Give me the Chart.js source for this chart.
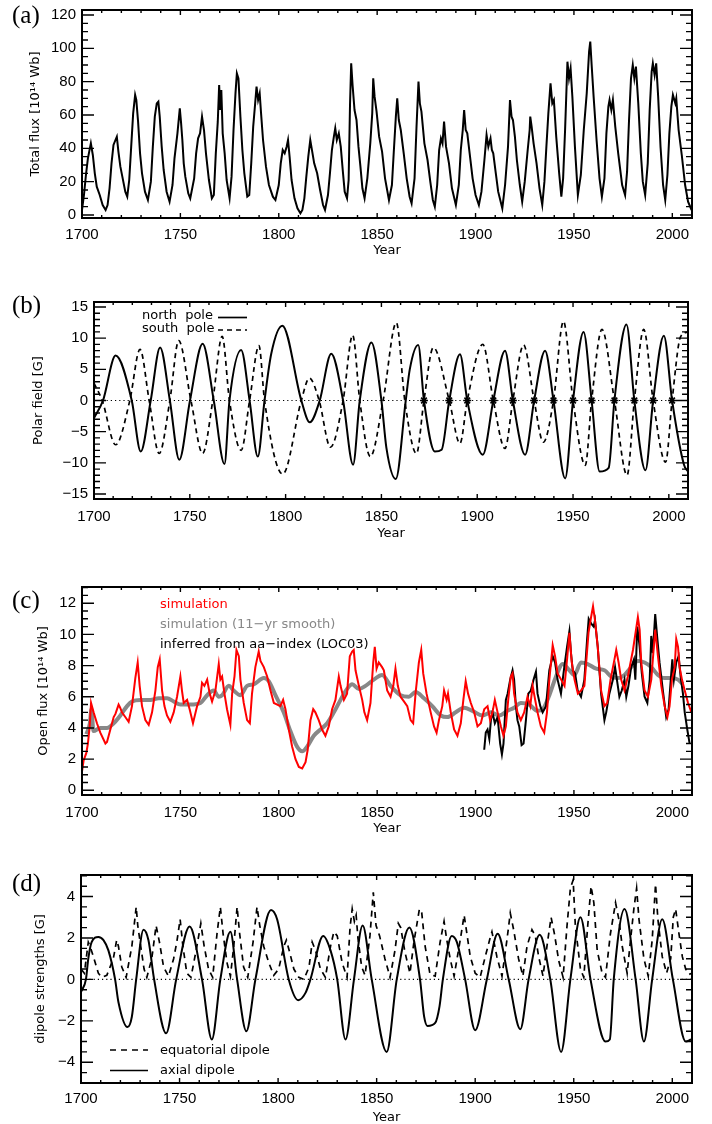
<!DOCTYPE html>
<html>
<head>
<meta charset="utf-8">
<script src="https://cdn.jsdelivr.net/npm/chart.js@4.4.0/dist/chart.umd.min.js"></script>
<style>
  body { margin: 0; background: #fff; width: 712px; height: 1124px; position: relative; overflow: hidden; }
  canvas { position: absolute; left: 0; }
</style>
</head>
<body>
<canvas id="chartA" width="712" height="262" style="top:0px"></canvas>
<canvas id="chartB" width="712" height="265" style="top:280px"></canvas>
<canvas id="chartC" width="712" height="280" style="top:565px"></canvas>
<canvas id="chartD" width="712" height="270" style="top:860px"></canvas>
<script>
const YEAR_MIN = 1700;
const YEAR_MAX = 2010;
const yearTicks = [1700, 1750, 1800, 1850, 1900, 1950, 2000];
const fluxTicks = [0, 20, 40, 60, 80, 100, 120];
const polarTicks = [-15, -10, -5, 0, 5, 10, 15];
const openTicks = [0, 2, 4, 6, 8, 10, 12];
const dipoleTicks = [-4, -2, 0, 2, 4];

// (a) total flux [10^14 Wb], [year, value]
const totalFlux = [
  [1700,3],[1701,12],[1702,24],[1703,34],[1704.5,43],[1705.5,36],[1706.5,25],[1707.5,17],[1709,12],[1710.5,6],[1712,3],[1713,6],
  [1714,16],[1715,31],[1716,42],[1717,45],[1717.7,47],[1718.5,38],[1719.5,29],[1720.5,23],[1722,14],[1723,11],
  [1724,21],[1725,41],[1726,61],[1727,72],[1727.6,69],[1728.5,56],[1729.5,37],[1730.5,25],[1732,14],[1733.5,9],
  [1735,20],[1736,41],[1737,59],[1738,67],[1738.8,68],[1739.5,59],[1740.5,41],[1741.5,27],[1743,14],[1744.5,8],
  [1746,18],[1747,34],[1748.5,49],[1749.7,64],[1750.3,56],[1751,45],[1751.7,31],[1752.5,23],[1754,13],[1755,10],
  [1757,22],[1758,37],[1759,46],[1760,49],[1761,59],[1762,51],[1763,37],[1764.5,21],[1766,10],[1767,12],
  [1768,37],[1769,56],[1769.7,78],[1770.2,63],[1770.8,75],[1771.5,49],[1772.5,37],[1773.5,21],[1775,10],
  [1776,23],[1777,51],[1778,73],[1778.7,85],[1779.5,82],[1780.5,59],[1781.5,39],[1782.5,25],[1784,11],[1785,12],
  [1786,31],[1787,53],[1788,67],[1788.7,77],[1789.5,69],[1790.3,73],[1791,61],[1792,45],[1793.5,29],[1795,18],[1797,11],[1798.3,9],
  [1800,18],[1801,31],[1802,39],[1803,37],[1804,41],[1804.7,45],[1805.5,35],[1806.5,21],[1808,10],[1809.5,4],[1811,1],[1812,3],
  [1813,10],[1814,23],[1815,35],[1816,45],[1817,38],[1818,31],[1819.5,25],[1821,15],[1822.5,6],[1823.5,3],
  [1825,12],[1826,25],[1827,39],[1828,47],[1828.7,52],[1829.5,45],[1830.5,49],[1831.5,41],[1832.5,27],[1833.5,14],[1834.7,10],
  [1835.5,21],[1836.2,66],[1836.8,91],[1837.5,78],[1838.5,63],[1839.5,57],[1840.5,41],[1841.5,29],[1842.5,16],[1843.6,10],
  [1845,22],[1846.5,43],[1847.5,61],[1848,82],[1848.7,71],[1849.7,62],[1851,47],[1852.5,38],[1854,22],[1856,9],
  [1857.5,18],[1858.5,39],[1859.5,59],[1860.2,70],[1861,57],[1862,51],[1863.5,37],[1865,22],[1866.5,11],[1867.5,7],
  [1869,22],[1870,53],[1871,80],[1871.7,67],[1872.5,62],[1874,43],[1875.6,33],[1877,20],[1878.3,9],[1879.3,5],
  [1880.5,18],[1881.5,39],[1882.4,46],[1883.2,43],[1884,56],[1885,41],[1886.5,31],[1888,16],[1890,6],
  [1891.5,18],[1892.5,39],[1893.5,51],[1894.2,63],[1895,51],[1895.8,49],[1897,37],[1898.5,22],[1900,12],[1901.7,6],
  [1903,14],[1904.5,33],[1905.6,48],[1906.5,41],[1907.6,46],[1908.3,39],[1909,37],[1910.3,25],[1911.5,14],[1913.6,4],
  [1915,18],[1916.5,41],[1917.5,69],[1918.3,59],[1919,57],[1920,47],[1921,33],[1922.5,18],[1923.7,8],
  [1925,20],[1926.5,39],[1927.5,51],[1927.8,59],[1928.5,53],[1929.5,43],[1931,31],[1932.5,16],[1933.9,6],
  [1935,20],[1936,41],[1937,61],[1938.1,79],[1939,67],[1939.8,69],[1941,47],[1942.5,25],[1943.6,11],
  [1944.5,22],[1945.5,51],[1946.7,92],[1947.5,82],[1948.3,88],[1949.2,71],[1950.5,41],[1952,12],
  [1953.5,24],[1955,51],[1956.5,73],[1957.7,98],[1958.3,104],[1959,90],[1960,71],[1961.5,45],[1963,22],[1964.2,11],
  [1965.5,22],[1966.5,49],[1967.5,65],[1968.1,69],[1969,63],[1969.8,69],[1971,53],[1972.5,37],[1974.5,18],[1976,12],
  [1977,26],[1978,57],[1979,82],[1979.9,90],[1980.7,82],[1981.5,89],[1982.7,67],[1984,37],[1985,20],[1986.2,12],
  [1987.5,31],[1988.5,63],[1989.5,86],[1990.1,91],[1991,84],[1991.8,91],[1992.8,71],[1994,41],[1995.3,18],[1996.4,9],
  [1997.5,24],[1998.5,49],[1999.5,65],[2000.3,72],[2001.5,67],[2002,70],[2003.2,51],[2004.8,36],[2006.5,18],[2008,8],[2009.8,3]
];

// (b) polar field [G]
const northPole = [
  [1700,-2.8],[1704.7,0],[1711.3,7.2],[1719.7,0],[1724.4,-8.2],[1729.6,0],[1734.5,8.5],[1739.6,0],[1744.5,-9.5],
  [1750.1,0],[1756.7,9.1],[1762.5,0],[1768.1,-10.2],[1770.7,0],[1776.8,8.1],[1781.2,0],[1785.5,-9],[1789,0],
  [1792.5,7.5],[1798.3,12],[1808.2,0],[1812.6,-3.5],[1817.8,0],[1823.8,7.5],[1830,0],[1835.2,-10.3],[1838.7,0],
  [1844.8,9.3],[1850,0],[1852.6,-7.6],[1857.5,-12.6],[1862.7,0],[1864.8,5],[1869.2,8.9],[1872.2,0],[1877.9,-8.2],
  [1881.4,-7.9],[1885.4,0],[1891,7.4],[1894.8,0],[1902.9,-8.7],[1908.4,0],[1914.5,8],[1918.6,0],[1925,-8.7],
  [1929.7,0],[1935.4,8],[1939.8,0],[1945.9,-12.5],[1950,0],[1955.5,11],[1959.7,0],[1963.9,-11.4],[1968.6,-10.8],
  [1971.6,0],[1977.9,12.2],[1982,0],[1987.8,-11.2],[1991.8,0],[1997.4,10.4],[2001.7,0],[2007.9,-10.3],[2010,-11.4]
];
const southPole = [
  [1700,2.8],[1704.3,0],[1711.3,-7.1],[1718.7,0],[1724,8.2],[1728.8,0],[1734,-8.5],[1739.6,0],[1744.2,9.6],
  [1750.6,0],[1756.7,-8.5],[1762,0],[1766.9,10.3],[1770.7,0],[1776.8,-8],[1781.2,0],[1786.1,8.8],[1789,0],
  [1798.5,-11.8],[1808.2,0],[1812.4,3.6],[1817.5,0],[1823.4,-7.5],[1830,0],[1835,10.5],[1838.7,0],[1844.2,-9],
  [1850.9,0],[1857.8,12.5],[1862.2,0],[1868.3,-8.5],[1872.2,0],[1877.1,8.5],[1885.4,0],[1891,-6.9],[1894.8,0],
  [1902.9,9],[1908.4,0],[1914.5,-7.7],[1918.6,0],[1924.2,8.9],[1929.7,0],[1934.5,-6.7],[1939.8,0],[1945,12.7],
  [1950,0],[1956.4,-10.4],[1959.7,0],[1965.1,11.4],[1971.6,0],[1978.2,-12],[1982,0],[1986.9,11.4],[1991.8,0],
  [1998.3,-9.9],[2001.7,0],[2006.1,10.2],[2010,11]
];
const reversalYears = [1872.2, 1885.4, 1894.8, 1908.4, 1918.6, 1929.7, 1939.8, 1950, 1959.7, 1971.6, 1982, 1991.8, 2001.7];

// (c) open flux [10^14 Wb]
const openFluxSim = [
  [1700,1.2],[1700.8,1.9],[1702.2,2.4],[1703,3.0],[1703.9,4.1],[1704.6,5.6],[1705.9,5.0],[1707.6,4.3],[1709.3,3.7],
  [1711.9,3.0],[1712.7,3.1],[1714.4,3.9],[1716.1,4.7],[1717,4.9],[1718.6,5.5],[1719.4,5.3],[1720.3,5.0],[1722,4.7],
  [1723.7,4.4],[1725.4,5.4],[1727.1,7.2],[1728.3,8.2],[1729.3,6.7],[1730.5,5.4],[1732.2,4.5],[1733.9,4.2],[1735.6,5.0],
  [1737.3,6.4],[1738.5,7.9],[1739.5,8.4],[1740.7,6.4],[1741.9,5.4],[1743.2,4.8],[1744.9,4.4],[1746.6,5.0],[1748.3,6.0],
  [1750,7.3],[1750.8,6.4],[1751.7,5.6],[1753.4,5.8],[1754.7,5.2],[1756.4,4.3],[1758.5,5.4],[1760.2,6.0],[1761,6.9],
  [1762.2,6.7],[1763.6,7.1],[1764.9,6.2],[1766.1,5.7],[1767.8,6.4],[1769.5,8.1],[1770.3,7.1],[1771.2,7.3],[1772.4,6.2],
  [1773.7,5.2],[1775.4,4.2],[1776.3,6.2],[1777.5,7.3],[1778.5,9.0],[1779.7,8.6],[1780.5,7.1],[1782.2,5.6],[1783.9,4.5],
  [1785.3,4.3],[1786.4,6.2],[1788.1,7.9],[1789.8,8.9],[1790.7,8.3],[1792.4,7.9],[1794.1,7.3],[1795.8,6.4],[1797.5,5.6],
  [1799.2,5.5],[1800.8,5.4],[1802.2,5.8],[1803.4,5.2],[1805.1,3.9],[1806.8,2.8],[1808.5,2.0],[1810.2,1.5],[1811.9,1.4],
  [1813.6,1.8],[1814.7,2.6],[1816.1,4.5],[1817.5,5.2],[1818.6,5.0],[1820.3,4.5],[1822,3.9],[1823.7,3.5],[1825.4,4.1],
  [1827.1,5.2],[1828.8,5.8],[1830.5,7.3],[1831.4,6.7],[1833.1,5.8],[1834.7,6.2],[1836.1,8.6],[1837.3,8.9],[1838.1,9.0],
  [1839,7.7],[1840.7,6.7],[1842.4,5.8],[1843.5,5.0],[1844.9,4.5],[1846.6,5.6],[1848,8.2],[1848.8,9.2],[1849.7,7.8],
  [1850.8,8.2],[1852.5,7.9],[1853.4,7.7],[1855.1,6.4],[1856.8,6.0],[1858.2,6.7],[1859.3,7.8],[1860.5,6.7],[1861.9,6.0],
  [1863.6,5.7],[1865.3,5.4],[1867,4.5],[1868.3,4.3],[1869.5,6.2],[1871.2,8.2],[1872.4,9.0],[1873.4,7.5],[1875.1,6.2],
  [1877.2,5.0],[1878.9,4.1],[1880.2,3.7],[1881.4,4.5],[1883.1,5.4],[1884,6.4],[1885.3,5.8],[1886,6.2],[1887.4,5.0],
  [1889.1,3.9],[1890.8,3.5],[1892.5,4.3],[1893.8,5.8],[1895,7.0],[1896.2,6.2],[1897.6,5.6],[1899.3,5.0],[1901,4.1],
  [1902.7,4.3],[1904.4,5.2],[1906.1,5.4],[1907.4,4.5],[1908.6,5.0],[1909.8,5.8],[1911.2,5.0],[1912.9,4.1],[1914.2,3.5],
  [1915.4,4.1],[1916.6,5.8],[1917.9,7.3],[1918.8,7.5],[1919.6,6.2],[1921.3,5.0],[1923,4.5],[1924.7,5.0],[1926.4,6.0],
  [1927.8,5.4],[1929,6.7],[1930.3,5.8],[1931.5,5.0],[1933.2,4.1],[1934.9,3.7],[1936.3,5.0],[1937.5,7.1],[1939.2,9.3],
  [1940.4,8.6],[1941.7,7.5],[1943.5,7.1],[1945.2,6.7],[1946.5,8.4],[1947.7,10.1],[1948.9,8.2],[1950.3,7.1],[1952,6.2],
  [1953.6,6.4],[1955.3,6.7],[1957.4,10.1],[1958.7,11.1],[1959.7,11.8],[1960.7,10.9],[1962.1,9.2],[1963.8,6.4],
  [1965.5,5.4],[1966.9,5.6],[1968.6,7.1],[1970.6,8.4],[1971.5,9.0],[1972.7,8.2],[1974,7.1],[1975.7,6.4],[1977.4,7.3],
  [1980,9.0],[1982.5,11.1],[1983.4,10.3],[1984.2,8.2],[1985.9,6.4],[1987.6,6.0],[1989.3,7.1],[1990.1,8.4],[1991.3,10.3],
  [1992.7,8.6],[1994.4,6.7],[1996.1,5.4],[1997.5,4.7],[1998.6,5.4],[1999.8,7.1],[2001.2,7.9],[2002,9.7],[2002.9,9.2],
  [2003.7,7.9],[2004.9,7.1],[2006.3,6.4],[2008,5.6],[2009.7,5.0]
];
const openFluxSmooth = [
  [1702.2,3.6],[1704,4.3],[1704.8,5.2],[1705.8,3.8],[1709.3,4.0],[1712.7,4.0],[1716.1,4.3],[1719.5,4.8],[1722.9,5.4],
  [1725.4,5.7],[1729.7,5.8],[1734.7,5.8],[1739,5.9],[1743.2,5.9],[1746.6,5.7],[1750,5.5],[1755.1,5.5],[1760.2,5.6],
  [1763.6,6.1],[1766.9,6.4],[1769.5,6.0],[1771.2,6.1],[1774.6,6.7],[1777.1,6.4],[1780.5,6.1],[1783.9,6.7],[1787.3,6.8],
  [1792.4,7.2],[1794.9,7.0],[1798.3,6.1],[1802.5,5.0],[1805.9,3.8],[1809.3,2.8],[1811.9,2.5],[1814.4,2.8],[1817.8,3.5],
  [1821.2,3.9],[1824.6,4.3],[1828,5.0],[1831.4,5.8],[1834.7,6.5],[1837.3,6.8],[1840.7,6.5],[1844.1,6.7],[1848.3,7.1],
  [1852.5,7.4],[1856.8,6.7],[1861.9,6.1],[1866.1,6.0],[1869.5,6.3],[1873.8,5.9],[1878,5.4],[1882.3,4.8],[1885.7,4.7],
  [1889.9,5.0],[1894.2,5.3],[1898.4,5.1],[1903.5,4.8],[1907.8,5.0],[1912,4.8],[1916.2,5.1],[1919.6,5.3],[1923,5.6],
  [1927.3,5.5],[1931.5,5.1],[1934.1,5.2],[1937.5,6.1],[1940.9,7.3],[1944.3,8.1],[1947.7,7.7],[1950.2,7.4],[1953.6,8.2],
  [1957,8.1],[1961.3,7.8],[1965.5,7.7],[1968.9,7.3],[1972.3,7.2],[1975.7,7.4],[1979.1,7.9],[1982.5,8.3],[1985.9,8.2],
  [1989.3,7.9],[1992.7,7.4],[1996.1,7.2],[1999.5,7.2],[2002.9,7.1],[2005.4,6.8]
];
const openFluxAa = [
  [1904.4,2.6],[1905.2,3.7],[1906.1,3.9],[1907,3.3],[1907.8,4.5],[1908.6,5.0],[1909.8,4.3],[1911.2,4.7],[1912.5,3.0],
  [1913.4,2.3],[1914.2,3.0],[1915.4,5.8],[1916.3,6.2],[1917.6,7.1],[1918.8,7.7],[1919.6,7.1],[1920.5,5.4],[1921.3,4.5],
  [1922.2,4.1],[1923.4,2.9],[1924.4,3.0],[1925.6,4.5],[1926.8,6.2],[1928.1,6.4],[1929.5,7.1],[1930.7,7.6],[1931.5,6.2],
  [1932.9,5.4],[1934.1,5.0],[1935.8,5.4],[1937.5,7.7],[1939.2,8.6],[1940.4,8.2],[1941.7,7.1],[1943.4,6.2],[1945.1,7.9],
  [1946.5,9.2],[1947.7,10.2],[1948.5,8.8],[1949.4,7.7],[1950.6,7.5],[1951.9,6.4],[1953.6,6.0],[1955.3,7.1],[1956.7,9.7],
  [1957.5,11.0],[1958.7,10.7],[1960,10.5],[1960.7,10.9],[1962.1,9.2],[1963.8,6.2],[1965.5,4.5],[1966.4,5.0],[1968,6.2],
  [1969.8,7.1],[1970.9,7.9],[1972.3,6.7],[1973.1,6.0],[1974.3,6.4],[1975.7,7.1],[1976.6,6.0],[1977.7,6.7],[1979.1,7.9],
  [1980.5,8.4],[1981.2,7.1],[1982.2,10.5],[1983.4,9.2],[1984.5,7.5],[1985.9,6.0],[1987.3,5.6],[1988.5,7.1],[1989.3,9.9],
  [1990.1,8.8],[1991.3,11.3],[1992.4,9.7],[1993.5,8.2],[1995.2,6.4],[1996.9,4.7],[1998.1,5.2],[1999.1,6.9],[2000,8.4],
  [2000.8,7.1],[2002,8.2],[2003.2,8.6],[2004.2,7.3],[2005.4,6.2],[2006.3,5.0],[2007.6,3.9],[2008.8,3.0]
];

// (d) dipole strengths [G]
const equatorialDipole = [
  [1700,0.5],[1701.7,0.3],[1703.7,1.8],[1704.6,1.6],[1706.3,1.1],[1708.8,0.3],[1710.5,0.1],[1713.1,0.2],[1716.4,1.0],
  [1718.1,1.9],[1719,1.6],[1720.7,0.6],[1722.9,0.1],[1725.8,1.6],[1728,3.5],[1728.8,2.6],[1730,1.8],[1732,0.5],
  [1733.4,0.1],[1735.9,1.0],[1738.1,2.6],[1739.8,1.8],[1741.9,0.6],[1744.4,0.15],[1747,1.0],[1748.6,1.8],[1750.3,2.9],
  [1751.7,1.6],[1753.7,0.3],[1755.8,0.1],[1758.8,1.6],[1760.8,2.7],[1762.5,1.6],[1764.7,0.5],[1766.8,0.1],[1769,2.2],
  [1770.7,3.5],[1772.1,2.2],[1774.1,0.8],[1775.8,0.15],[1777.5,1.6],[1779.2,3.5],[1780.5,2.2],[1782.5,0.6],[1784.6,0.1],
  [1787.3,1.8],[1789.3,3.5],[1790.7,2.6],[1792.7,1.6],[1795.3,0.8],[1797.8,0.2],[1800.3,0.5],[1802.9,1.6],[1804.2,1.9],
  [1805.9,1.3],[1808,0.5],[1810.5,0.1],[1813.1,0.0],[1815.7,0.6],[1817.3,1.8],[1819,1.4],[1821.5,0.5],[1824,0.1],
  [1826.6,1.6],[1828.3,2.3],[1830,2.1],[1832.5,0.8],[1835,0.1],[1836.5,2.5],[1837.6,3.4],[1838.7,2.8],[1839.6,3.1],
  [1840.5,2.0],[1842.4,0.6],[1844.1,0.2],[1846.6,2.1],[1848.3,4.2],[1849.7,2.6],[1851.5,2.1],[1854.2,1.0],[1856.8,0.1],
  [1859.3,1.4],[1861,2.7],[1862.2,2.5],[1864.4,1.3],[1866.9,0.3],[1868.9,1.8],[1870.3,2.6],[1871.7,3.4],[1872.9,3.2],
  [1874.6,1.6],[1877.1,0.24],[1879.7,0.16],[1882.2,1.8],[1884.2,2.8],[1885.6,1.9],[1887.3,1.0],[1889.3,0.16],[1892.4,1.9],
  [1894.4,3.1],[1895.8,2.2],[1897.5,1.1],[1900,0.3],[1902.5,0.1],[1905.1,1.1],[1907.3,1.9],[1908.5,2.3],[1911,1.1],
  [1913.6,0.16],[1916.1,1.9],[1917.8,3.2],[1919.5,2.4],[1922,1.0],[1924.2,0.16],[1926.3,1.6],[1928.8,2.4],[1930.5,2.1],
  [1932.2,1.1],[1934.4,0.16],[1936.4,1.6],[1938.5,3.0],[1940.2,2.2],[1942.4,0.9],[1944.6,0.1],[1946.6,2.6],[1948.3,4.4],
  [1949.7,4.8],[1950.8,2.6],[1953.4,0.5],[1955.1,0.1],[1957.1,2.6],[1958.8,4.5],[1960.2,3.7],[1961.9,1.4],[1964.4,0.3],
  [1966.1,0.1],[1968.6,2.2],[1971.2,3.7],[1972.9,2.9],[1974.6,1.6],[1977.1,0.3],[1978.8,1.9],[1980.5,3.4],[1981.9,4.4],
  [1983.1,2.9],[1985.6,1.0],[1987.8,0.16],[1989.8,1.9],[1991.5,4.6],[1992.7,2.9],[1994.9,1.1],[1997.1,0.3],[1999.2,1.0],
  [2000.5,3.0],[2001.7,3.4],[2003.4,2.2],[2005.1,1.1],[2006.8,0.5],[2008.5,0.24],[2010,0.3]
];
const axialDipole = [
  [1700,-0.6],[1702.5,0],[1703.7,1.0],[1705.4,1.8],[1708.8,2.05],[1711.4,1.9],[1713.9,1.4],[1717.3,0],[1719,-1.1],
  [1723.6,-2.3],[1725.8,-1.8],[1728,0],[1731.7,2.4],[1734.2,1.9],[1737.1,0],[1743.2,-2.6],[1748.3,0],[1755.1,2.55],
  [1761.4,0],[1766.4,-2.9],[1770.7,0],[1775.8,2.3],[1779.2,0],[1783.9,-2.5],[1788.5,0],[1796.4,3.35],[1799.5,2.9],
  [1805.4,0],[1810.2,-1.0],[1813.9,-0.65],[1816.4,0],[1822.9,2.1],[1826.6,1.4],[1830,0],[1834.2,-2.9],[1838.5,0],
  [1842.9,2.6],[1847.5,0],[1855.1,-3.5],[1860.2,0],[1866.6,2.5],[1872,0],[1874.1,-1.8],[1875.8,-2.25],[1879.7,-2.1],
  [1881.9,-1.3],[1883.6,0],[1888.1,2.1],[1890.7,1.8],[1894.9,0],[1900,-2.45],[1905.9,0],[1911.4,2.2],[1917,0],
  [1922.9,-2.4],[1927.1,0],[1932.7,2.15],[1938.1,0],[1943.6,-3.5],[1948.3,0],[1953.4,3.0],[1958.5,0],[1966.1,-3.0],
  [1968.3,-2.9],[1970.3,0],[1975.8,3.4],[1981.4,0],[1985.6,-3.0],[1989.8,0],[1994.9,2.9],[2000.3,0],[2006.8,-3.0],[2009.5,-2.9]
];

const FONT = "'DejaVu Sans', sans-serif";
const TICK_FONT = "'Liberation Sans', Arial, sans-serif";
const pts = (arr) => arr.map(([x, y]) => ({ x, y }));
const zeroLine = [[YEAR_MIN, 0], [YEAR_MAX, 0]];
const fmt = (v) => (v < 0 ? "\u2212" + Math.abs(v) : String(v));

// IDL style box: inward ticks on all four sides, panel letter, hand placed legend
const idlFrame = {
  id: "idlFrame",
  afterDatasetsDraw(chart, args, o) {
    const { ctx, chartArea: a, scales } = chart;
    const x = scales.x, y = scales.y;
    ctx.save();
    ctx.strokeStyle = "#000";
    ctx.lineWidth = 1.4;
    ctx.setLineDash([]);
    ctx.beginPath();
    for (let v = YEAR_MIN; v <= YEAR_MAX; v += 10) {
      const px = x.getPixelForValue(v);
      const len = v % 50 === 0 ? 5 : 3;
      ctx.moveTo(px, a.bottom); ctx.lineTo(px, a.bottom - len);
      ctx.moveTo(px, a.top); ctx.lineTo(px, a.top + len);
    }
    const first = Math.ceil(y.min / o.minor - 1e-9), last = Math.floor(y.max / o.minor + 1e-9);
    for (let i = first; i <= last; i++) {
      const v = i * o.minor;
      const r = v / o.major;
      const len = Math.abs(r - Math.round(r)) < 1e-6 ? 12 : 6;
      const py = y.getPixelForValue(v);
      ctx.moveTo(a.left, py); ctx.lineTo(a.left + len, py);
      ctx.moveTo(a.right, py); ctx.lineTo(a.right - len, py);
    }
    ctx.stroke();
    ctx.lineWidth = 2;
    ctx.strokeRect(a.left, a.top, a.right - a.left, a.bottom - a.top);

    ctx.fillStyle = "#000";
    ctx.textBaseline = "alphabetic";
    ctx.textAlign = "left";
    ctx.font = "25px 'Liberation Serif', serif";
    ctx.fillText(o.tag, 12, o.tagY);

    ctx.font = "13px " + FONT;
    for (const e of o.legend || []) {
      ctx.fillStyle = e.color || "#000";
      ctx.fillText(e.text, e.x, e.y);
      if (e.line) {
        ctx.strokeStyle = "#000";
        ctx.lineWidth = 1.7;
        ctx.setLineDash(e.line.dash || []);
        ctx.beginPath();
        ctx.moveTo(e.line.x0, e.line.y);
        ctx.lineTo(e.line.x1, e.line.y);
        ctx.stroke();
      }
    }
    ctx.restore();
  }
};

function panel(id, cfg) {
  const canvas = document.getElementById(id);
  const h = canvas.height;
  const box = cfg.box;
  const noPad = (s) => { s.paddingLeft = 0; s.paddingRight = 0; s.paddingTop = 0; s.paddingBottom = 0; };
  return new Chart(canvas, {
    type: "line",
    data: { datasets: cfg.datasets },
    options: {
      responsive: false,
      animation: false,
      events: [],
      layout: { padding: { left: 0, top: box.top, right: 712 - box.right, bottom: 0 } },
      elements: {
        point: { radius: 0 },
        line: { borderWidth: 2, borderColor: "#000", tension: 0, fill: false }
      },
      plugins: {
        legend: { display: false },
        tooltip: { enabled: false },
        idlFrame: cfg.frame
      },
      scales: {
        x: {
          type: "linear",
          min: YEAR_MIN,
          max: YEAR_MAX,
          grid: { display: false, drawTicks: false },
          border: { display: false },
          afterBuildTicks: (s) => { s.ticks = yearTicks.map((v) => ({ value: v })); },
          afterFit: (s) => { s.height = h - box.bottom; noPad(s); },
          ticks: {
            autoSkip: false, maxRotation: 0, padding: cfg.xPad, color: "#000",
            font: { family: TICK_FONT, size: 15 },
            callback: (v) => String(v)
          },
          title: {
            display: true, text: "Year", color: "#000",
            font: { family: FONT, size: 13 },
            padding: { top: 0, bottom: cfg.yearPad }
          }
        },
        y: {
          type: "linear",
          min: cfg.yMin,
          max: cfg.yMax,
          grid: { display: false, drawTicks: false },
          border: { display: false },
          afterBuildTicks: (s) => { s.ticks = cfg.yTicks.map((v) => ({ value: v })); },
          afterFit: (s) => { s.width = box.left; noPad(s); },
          ticks: {
            padding: 6, color: "#000",
            font: { family: TICK_FONT, size: 15 },
            callback: (v) => fmt(v)
          },
          title: {
            display: true, text: cfg.yTitle, color: "#000",
            font: { family: FONT, size: 13 },
            padding: { top: cfg.yTitlePad, bottom: 0 }
          }
        }
      }
    },
    plugins: [idlFrame]
  });
}

panel("chartA", {
  box: { left: 82, top: 10, right: 692, bottom: 218 },
  yMin: -1.8, yMax: 123, yTicks: fluxTicks,
  yTitle: "Total flux [10\u00b9\u2074 Wb]", yTitlePad: 28,
  xPad: 8, yearPad: 3.5,
  frame: { minor: 5, major: 20, tag: "(a)", tagY: 23 },
  datasets: [
    { data: pts(totalFlux), borderColor: "#000", borderWidth: 2 }
  ]
});

panel("chartB", {
  box: { left: 94, top: 22, right: 688, bottom: 219 },
  yMin: -15.8, yMax: 15.8, yTicks: polarTicks,
  yTitle: "Polar field [G]", yTitlePad: 30.5,
  xPad: 8.7, yearPad: 4,
  frame: {
    minor: 1, major: 5, tag: "(b)", tagY: 33,
    legend: [
      { text: "north  pole", x: 142, y: 39, line: { x0: 218, x1: 247, y: 37.5 } },
      { text: "south  pole", x: 142, y: 52, line: { x0: 218, x1: 247, y: 50, dash: [5, 4] } }
    ]
  },
  datasets: [
    { data: reversalYears.map((v) => ({ x: v, y: 0 })), showLine: false, pointStyle: "star",
      pointRadius: 4, pointBorderWidth: 1.6, pointBorderColor: "#000", pointBackgroundColor: "#000" },
    { data: pts(northPole), borderColor: "#000", borderWidth: 2, cubicInterpolationMode: "monotone" },
    { data: pts(southPole), borderColor: "#000", borderWidth: 1.7, borderDash: [5, 4], cubicInterpolationMode: "monotone" },
    { data: pts(zeroLine), borderColor: "#000", borderWidth: 1.2, borderDash: [1.2, 3] }
  ]
});

panel("chartC", {
  box: { left: 82, top: 22, right: 692, bottom: 230 },
  yMin: -0.3, yMax: 13.04, yTicks: openTicks,
  yTitle: "Open flux [10\u00b9\u2074 Wb]", yTitlePad: 36,
  xPad: 8.5, yearPad: 9,
  frame: {
    minor: 0.5, major: 2, tag: "(c)", tagY: 43,
    legend: [
      { text: "simulation", x: 160, y: 43, color: "#ff0000" },
      { text: "simulation (11\u2212yr smooth)", x: 160, y: 63, color: "#888888" },
      { text: "inferred from aa\u2212index (LOC03)", x: 160, y: 83, color: "#000" }
    ]
  },
  datasets: [
    { data: pts(openFluxSim), borderColor: "#ff0000", borderWidth: 2 },
    { data: pts(openFluxAa), borderColor: "#000", borderWidth: 2 },
    { data: pts(openFluxSmooth), borderColor: "#888888", borderWidth: 4, cubicInterpolationMode: "monotone" }
  ]
});

panel("chartD", {
  box: { left: 81, top: 15, right: 692, bottom: 223 },
  yMin: -5, yMax: 5.04, yTicks: dipoleTicks,
  yTitle: "dipole strengths [G]", yTitlePad: 33,
  xPad: 7.3, yearPad: 4.7,
  frame: {
    minor: 0.5, major: 2, tag: "(d)", tagY: 31,
    legend: [
      { text: "equatorial dipole", x: 160, y: 194, line: { x0: 110, x1: 148, y: 190, dash: [6, 5] } },
      { text: "axial dipole", x: 160, y: 214, line: { x0: 110, x1: 148, y: 210.5 } }
    ]
  },
  datasets: [
    { data: pts(axialDipole), borderColor: "#000", borderWidth: 2, cubicInterpolationMode: "monotone" },
    { data: pts(equatorialDipole), borderColor: "#000", borderWidth: 1.7, borderDash: [6, 5] },
    { data: pts(zeroLine), borderColor: "#000", borderWidth: 1.2, borderDash: [1.2, 3] }
  ]
});
</script>
</body>
</html>
